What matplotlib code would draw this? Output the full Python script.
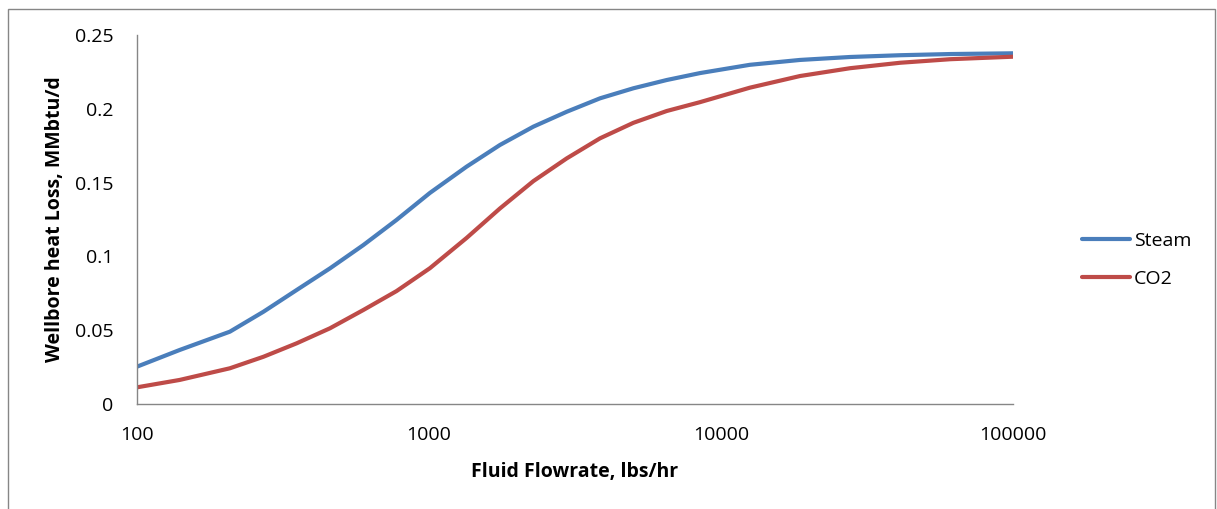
import matplotlib
matplotlib.use('Agg')
import matplotlib.pyplot as plt
from matplotlib.patches import Rectangle

# flowrate, lbs/hr
flow = [100, 140, 208, 271, 352, 458, 596, 774, 1007, 1345, 1750, 2277, 2962,
        3852, 5010, 6517, 8474, 12550, 18640, 27670, 41100, 61000, 100000]
# wellbore heat loss, MMbtu/d
steam = [0.0253, 0.0366, 0.049, 0.0625, 0.0772, 0.0919, 0.1077, 0.1247, 0.143,
         0.1608, 0.1755, 0.1879, 0.198, 0.2071, 0.2139, 0.2195, 0.2242, 0.2298,
         0.2331, 0.2351, 0.2363, 0.2371, 0.2376]
co2 = [0.0113, 0.0163, 0.0242, 0.032, 0.0411, 0.0513, 0.0637, 0.0765, 0.092,
       0.1125, 0.1325, 0.151, 0.1664, 0.18, 0.1905, 0.1985, 0.2045, 0.2143,
       0.2222, 0.2275, 0.2312, 0.2336, 0.2353]

plt.rcParams['font.family'] = ['Open Sans', 'DejaVu Sans']

fig = plt.figure(figsize=(12.17, 5.09), dpi=100)
ax = fig.add_axes([137/1217, 1-404/509, (1013-137)/1217, (404-35)/509])

ax.plot(flow, steam, color='#4A7EBB', lw=3, label='Steam', solid_capstyle='round', solid_joinstyle='round')
ax.plot(flow, co2, color='#BE4B48', lw=3, label='CO2', solid_capstyle='round', solid_joinstyle='round')

ax.set_xscale('log')
ax.set_xlim(100, 100000)
ax.set_ylim(0, 0.25)
ax.set_xticks([100, 1000, 10000, 100000])
ax.set_xticklabels(['100', '1000', '10000', '100000'])
ax.set_yticks([0, 0.05, 0.1, 0.15, 0.2, 0.25])
ax.set_yticklabels(['0', '0.05', '0.1', '0.15', '0.2', '0.25'])
ax.minorticks_off()
ax.tick_params(length=0, labelsize=14)
ax.tick_params(axis='x', pad=16)
ax.tick_params(axis='y', pad=17)
for s in ['top', 'right']:
    ax.spines[s].set_visible(False)
for s in ['left', 'bottom']:
    ax.spines[s].set_color('#868686')
    ax.spines[s].set_linewidth(1)

ax.set_xlabel('Fluid Flowrate, lbs/hr', fontsize=14, fontweight='bold')
ax.set_ylabel('Wellbore heat Loss, MMbtu/d', fontsize=14, fontweight='bold')
ax.xaxis.set_label_coords(0.5, (404-472)/369)
ax.yaxis.set_label_coords((55-137)/876, 0.5)
ax.xaxis.label.set_va('center')
ax.yaxis.label.set_va('center')

fig.legend(loc='center left', bbox_to_anchor=(1064/1217, 1-260/509), frameon=False,
           fontsize=14, handlelength=2.5, handletextpad=0.2, labelspacing=1.05)

# outer chart border
fig.patches.append(Rectangle((8/1217, -0.05), (1215-8)/1217, 1.05-9/509,
                             transform=fig.transFigure, fill=False,
                             edgecolor='#868686', lw=1))

fig.savefig('out.png', dpi=100)
